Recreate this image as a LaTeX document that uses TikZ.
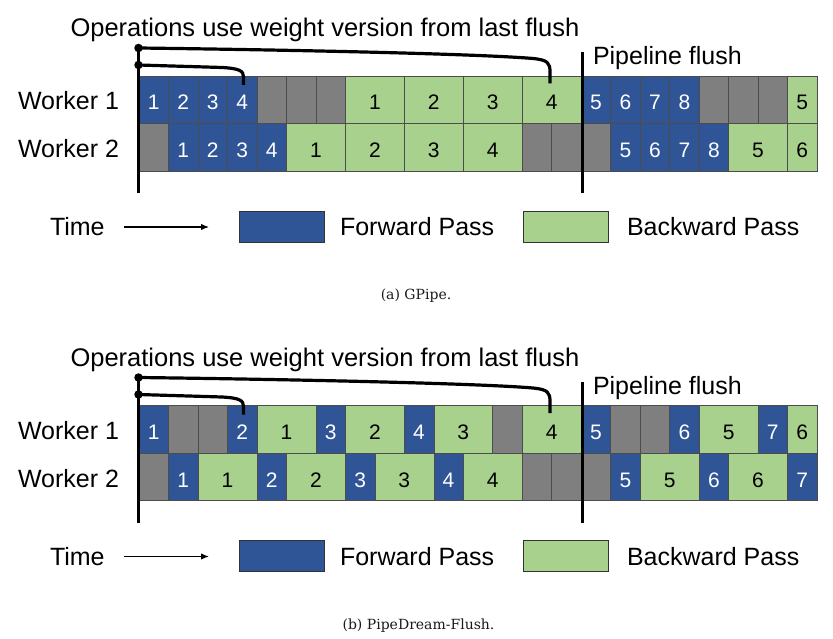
\documentclass[tikz,border=0pt]{standalone}
\usepackage{fontspec}
\setmainfont{Liberation Sans}
\newfontfamily\capfont{DejaVu Serif}
\usetikzlibrary{arrows.meta}
\definecolor{cF}{HTML}{2F5597}
\definecolor{cB}{HTML}{A9D18E}
\definecolor{cG}{HTML}{7F7F7F}
\colorlet{tF}{white}
\colorlet{tB}{black}
\colorlet{tG}{black}

\newcommand\pipechart[3]{%
  \foreach \pS/\pL/\pT/\pN in {#2} {
    \node[cell, fill=c\pT, text=t\pT, minimum width={\pL*29.48}] (#1-w1-\pS) at ({139+(\pS+\pL/2)*29.48},99.75) {\pN};
  }
  \foreach \pS/\pL/\pT/\pN in {#3} {
    \node[cell, fill=c\pT, text=t\pT, minimum width={\pL*29.48}] (#1-w2-\pS) at ({139+(\pS+\pL/2)*29.48},147.25) {\pN};
  }
  \node[txt, font=\fontsize{25.5}{30}\selectfont, anchor=base west] (#1-title) at (70.5,36.5) {Operations use weight version from last flush};
  \node[txt, anchor=base west] (#1-flush) at (593,65) {Pipeline flush};
  \node[txt, anchor=base west] (#1-wk1) at (18,110) {Worker 1};
  \node[txt, anchor=base west] (#1-wk2) at (18,158) {Worker 2};
  % vertical lines
  \node[dot] (#1-d1) at (138.5,48) {};
  \node[dot] (#1-d2) at (138.5,65) {};
  \coordinate (#1-vbot) at (138.5,193);
  \draw[thickline] (#1-d1.center) -- (#1-vbot);
  \coordinate (#1-ftop) at (582.5,52);
  \coordinate (#1-fbot) at (582.5,193);
  \draw[thickline] (#1-ftop) -- (#1-fbot);
  % brackets
  \coordinate (#1-e1) at (550,83.5);
  \coordinate (#1-e2) at (243.5,85);
  \draw[thickline, line join=round] (#1-d1.center) .. controls (300,50) and (480,54) .. (533,58.5)
      .. controls (548,60) and (550,63) .. (550,72) -- (#1-e1);
  \draw[thickline, line join=round] (#1-d2.center) -- (222,67.5)
      .. controls (240,68.5) and (243.5,71) .. (243.5,77) -- (#1-e2);
  % legend
  \node[txt, anchor=base west] (#1-time) at (50,236) {Time};
  \coordinate (#1-ta) at (124,227);
  \coordinate (#1-tb) at (209,227);
  \draw[line width=1.3pt, -{Latex[length=8pt,width=6.5pt]}] (#1-ta) -- (#1-tb);
  \node[key, fill=cF] (#1-kf) at (281.5,226.5) {};
  \node[txt, anchor=base west] (#1-lf) at (340,236) {Forward Pass};
  \node[key, fill=cB] (#1-kb) at (565.5,226.5) {};
  \node[txt, anchor=base west] (#1-lb) at (627,236) {Backward Pass};
}

\begin{document}
\begin{tikzpicture}[x=1pt,y=-1pt,
  cell/.style={draw=black!70, line width=0.6pt, inner sep=0pt, outer sep=0pt,
    minimum height=47.5pt, text height=20.5pt, text depth=0pt,
    font=\fontsize{21}{21}\selectfont},
  txt/.style={inner sep=0pt, outer sep=0pt, font=\fontsize{25}{30}\selectfont},
  dot/.style={circle, fill=black, inner sep=0pt, minimum size=8.5pt},
  thickline/.style={line width=3.2pt},
  key/.style={draw=black!80, line width=0.8pt, minimum width=85pt, minimum height=31pt, inner sep=0pt},
  captxt/.style={inner sep=0pt, font=\capfont\fontsize{14}{16}\selectfont, text=black!90}]
\useasboundingbox (0,0) rectangle (833,639);

\pipechart{a}{0/1/F/1, 1/1/F/2, 2/1/F/3, 3/1/F/4, 4/1/G/{}, 5/1/G/{}, 6/1/G/{}, 7/2/B/1, 9/2/B/2, 11/2/B/3, 13/2/B/4, 15/1/F/5, 16/1/F/6, 17/1/F/7, 18/1/F/8, 19/1/G/{}, 20/1/G/{}, 21/1/G/{}, 22/1/B/5}{0/1/G/{}, 1/1/F/1, 2/1/F/2, 3/1/F/3, 4/1/F/4, 5/2/B/1, 7/2/B/2, 9/2/B/3, 11/2/B/4, 13/1/G/{}, 14/1/G/{}, 15/1/G/{}, 16/1/F/5, 17/1/F/6, 18/1/F/7, 19/1/F/8, 20/2/B/5, 22/1/B/6}
\node[captxt, anchor=base] (a-cap) at (416,299.5) {(a) GPipe.};

\begin{scope}[shift={(0,329.5)}]
\pipechart{b}{0/1/F/1, 1/1/G/{}, 2/1/G/{}, 3/1/F/2, 4/2/B/1, 6/1/F/3, 7/2/B/2, 9/1/F/4, 10/2/B/3, 12/1/G/{}, 13/2/B/4, 15/1/F/5, 16/1/G/{}, 17/1/G/{}, 18/1/F/6, 19/2/B/5, 21/1/F/7, 22/1/B/6}{0/1/G/{}, 1/1/F/1, 2/2/B/1, 4/1/F/2, 5/2/B/2, 7/1/F/3, 8/2/B/3, 10/1/F/4, 11/2/B/4, 13/1/G/{}, 14/1/G/{}, 15/1/G/{}, 16/1/F/5, 17/2/B/5, 19/1/F/6, 20/2/B/6, 22/1/F/7}
\node[captxt, anchor=base] (b-cap) at (418.5,300) {(b) PipeDream-Flush.};
\end{scope}
\end{tikzpicture}
\end{document}
